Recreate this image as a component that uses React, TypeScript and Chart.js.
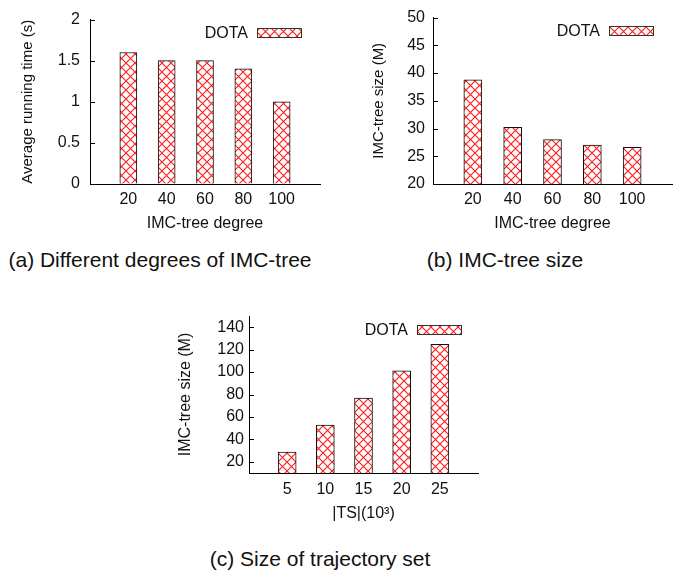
import React, { useEffect, useRef } from 'react';
import { Chart, registerables } from 'chart.js';

Chart.register(...registerables);

// ---------------- data ----------------
const seriesName = 'DOTA';
const degrees = [20, 40, 60, 80, 100];
const runningTime = [1.6, 1.5, 1.5, 1.4, 1.0];
const treeSizeByDegree = [38.8, 30.2, 28.0, 27.0, 26.6];
const tsSizes = [5, 10, 15, 20, 25];
const treeSizeByTS = [28.6, 52.7, 76.7, 101.1, 124.8];

const yTicksA = [0, 0.5, 1, 1.5, 2];
const yTicksB = [20, 25, 30, 35, 40, 45, 50];
const yTicksC = [20, 40, 60, 80, 100, 120, 140];

const captionA = '(a) Different degrees of IMC-tree';
const captionB = '(b) IMC-tree size';
const captionC = '(c) Size of trajectory set';

const FONT = "'Liberation Sans', Arial, Helvetica, sans-serif";
const TEXT = '#111';

function makePattern(ctx: CanvasRenderingContext2D) {
  const s = 9;
  const c = document.createElement('canvas');
  c.width = s;
  c.height = s;
  const g = c.getContext('2d')!;
  g.fillStyle = '#ffffff';
  g.fillRect(0, 0, s, s);
  g.strokeStyle = '#ff1a1a';
  g.lineWidth = 1.1;
  g.beginPath();
  g.moveTo(-1, -1);
  g.lineTo(s + 1, s + 1);
  g.moveTo(s + 1, -1);
  g.lineTo(-1, s + 1);
  g.stroke();
  return ctx.createPattern(c, 'repeat');
}

const decorPlugin = {
  id: 'decor',
  afterDatasetsDraw(chart: any, _args: any, opts: any) {
    const { ctx, chartArea, scales } = chart;
    const y = scales.y;
    ctx.save();
    ctx.strokeStyle = '#000';
    ctx.lineWidth = 1;
    y.ticks.forEach((t: any) => {
      const py = Math.round(y.getPixelForValue(t.value)) + 0.5;
      ctx.beginPath();
      ctx.moveTo(chartArea.left, py);
      ctx.lineTo(chartArea.left + 5, py);
      ctx.stroke();
    });
    const ds = chart.data.datasets[0];
    const bw = 44;
    const bh = 9;
    const bx = Math.round(chartArea.right - (opts.right ?? 19) - bw);
    const by = Math.round(chartArea.top + (opts.top ?? 8));
    ctx.fillStyle = ds.backgroundColor;
    ctx.fillRect(bx, by, bw, bh);
    ctx.strokeStyle = '#333';
    ctx.strokeRect(bx + 0.5, by + 0.5, bw, bh);
    ctx.fillStyle = TEXT;
    ctx.font = `16px ${FONT}`;
    ctx.textAlign = 'right';
    ctx.textBaseline = 'middle';
    ctx.fillText(ds.label, bx - 9, by + bh / 2 + 1);
    ctx.restore();
  },
};

interface PanelProps {
  left: number;
  top: number;
  width: number;
  height: number;
  padTop: number;
  padRight: number;
  yWidth: number;
  xHeight: number;
  xMin: number;
  xMax: number;
  xTicks: number[];
  yMin: number;
  yMax: number;
  yTicks: number[];
  xs: number[];
  ys: number[];
  xTitle: string;
  yTitle: string;
  yTitleSize: number;
  yTitlePad: number;
  yTickPad: number;
  xTickPad: number;
  xTitlePad: number;
  barThickness: number;
  legendRight: number;
  legendTop: number;
}

function Panel(p: PanelProps) {
  const ref = useRef<HTMLCanvasElement>(null);
  useEffect(() => {
    const canvas = ref.current!;
    const ctx = canvas.getContext('2d')!;
    const pattern = makePattern(ctx);
    const chart = new Chart(canvas, {
      type: 'bar',
      data: {
        datasets: [
          {
            label: seriesName,
            data: p.xs.map((x, i) => ({ x, y: p.ys[i] })),
            backgroundColor: pattern as any,
            borderColor: '#111',
            borderWidth: 1,
            barThickness: p.barThickness,
          },
        ],
      },
      options: {
        animation: false,
        responsive: false,
        events: [],
        layout: { padding: { left: 0, top: p.padTop, right: p.padRight, bottom: 0 } },
        plugins: {
          legend: { display: false },
          tooltip: { enabled: false },
          decor: { right: p.legendRight, top: p.legendTop },
        } as any,
        scales: {
          x: {
            type: 'linear',
            min: p.xMin,
            max: p.xMax,
            offset: false,
            afterBuildTicks: (s: any) => {
              s.ticks = p.xTicks.map((v) => ({ value: v }));
            },
            afterFit: (s: any) => {
              s.height = p.xHeight;
            },
            grid: { display: true, drawOnChartArea: false, drawTicks: false, offset: false },
            border: { display: true, color: '#000', width: 1 },
            ticks: {
              padding: p.xTickPad,
              color: TEXT,
              font: { family: FONT, size: 16 },
              maxRotation: 0,
              autoSkip: false,
              callback: (v: any) => String(v),
            },
            title: {
              display: true,
              text: p.xTitle,
              color: TEXT,
              font: { family: FONT, size: 16 },
              padding: { top: 0, bottom: p.xTitlePad },
            },
          },
          y: {
            type: 'linear',
            min: p.yMin,
            max: p.yMax,
            afterBuildTicks: (s: any) => {
              s.ticks = p.yTicks.map((v) => ({ value: v }));
            },
            afterFit: (s: any) => {
              s.width = p.yWidth;
            },
            grid: { display: true, drawOnChartArea: false, drawTicks: false },
            border: { display: true, color: '#000', width: 1 },
            ticks: {
              padding: p.yTickPad,
              color: TEXT,
              font: { family: FONT, size: 16 },
              callback: (v: any) => String(v),
            },
            title: {
              display: true,
              text: p.yTitle,
              color: TEXT,
              font: { family: FONT, size: p.yTitleSize },
              padding: { top: p.yTitlePad, bottom: 0 },
            },
          },
        },
      } as any,
      plugins: [decorPlugin],
    });
    return () => chart.destroy();
  }, []);
  return (
    <canvas
      ref={ref}
      width={p.width}
      height={p.height}
      style={{ position: 'absolute', left: p.left, top: p.top, width: p.width, height: p.height }}
    />
  );
}

function Caption({ text, cx, top }: { text: string; cx: number; top: number }) {
  return (
    <div
      style={{
        position: 'absolute',
        left: cx - 200,
        width: 400,
        top,
        textAlign: 'center',
        fontFamily: FONT,
        fontSize: 21,
        lineHeight: '21px',
        color: TEXT,
        whiteSpace: 'nowrap',
      }}
    >
      {text}
    </div>
  );
}

export default function App() {
  return (
    <div style={{ position: 'absolute', left: 0, top: 0, width: 681, height: 574, background: '#fff', overflow: 'hidden' }}>
      <Panel
        left={0}
        top={0}
        width={340}
        height={240}
        padTop={12}
        padRight={20}
        yWidth={90}
        xHeight={56}
        xMin={0}
        xMax={120}
        xTicks={degrees}
        yMin={0}
        yMax={2}
        yTicks={yTicksA}
        xs={degrees}
        ys={runningTime}
        xTitle="IMC-tree degree"
        yTitle="Average running time (s)"
        yTitleSize={15}
        yTitlePad={19}
        yTickPad={10}
        xTickPad={6}
        xTitlePad={7}
        barThickness={17}
        legendRight={19}
        legendTop={8}
      />
      <Panel
        left={340}
        top={0}
        width={341}
        height={240}
        padTop={12}
        padRight={9}
        yWidth={93}
        xHeight={56}
        xMin={0}
        xMax={120}
        xTicks={degrees}
        yMin={20}
        yMax={50}
        yTicks={yTicksB}
        xs={degrees}
        ys={treeSizeByDegree}
        xTitle="IMC-tree degree"
        yTitle="IMC-tree size (M)"
        yTitleSize={15}
        yTitlePad={30}
        yTickPad={8}
        xTickPad={6}
        xTitlePad={7}
        barThickness={18}
        legendRight={19}
        legendTop={8.5}
      />
      <Panel
        left={170}
        top={300}
        width={320}
        height={240}
        padTop={16}
        padRight={12}
        yWidth={79}
        xHeight={67}
        xMin={0}
        xMax={30}
        xTicks={tsSizes}
        yMin={10}
        yMax={150}
        yTicks={yTicksC}
        xs={tsSizes}
        ys={treeSizeByTS}
        xTitle="|TS|(10³)"
        yTitle="IMC-tree size (M)"
        yTitleSize={16}
        yTitlePad={6}
        yTickPad={5}
        xTickPad={7}
        xTitlePad={17}
        barThickness={18}
        legendRight={17}
        legendTop={9}
      />
      <Caption text={captionA} cx={160} top={249} />
      <Caption text={captionB} cx={505} top={249} />
      <Caption text={captionC} cx={320} top={548} />
    </div>
  );
}
